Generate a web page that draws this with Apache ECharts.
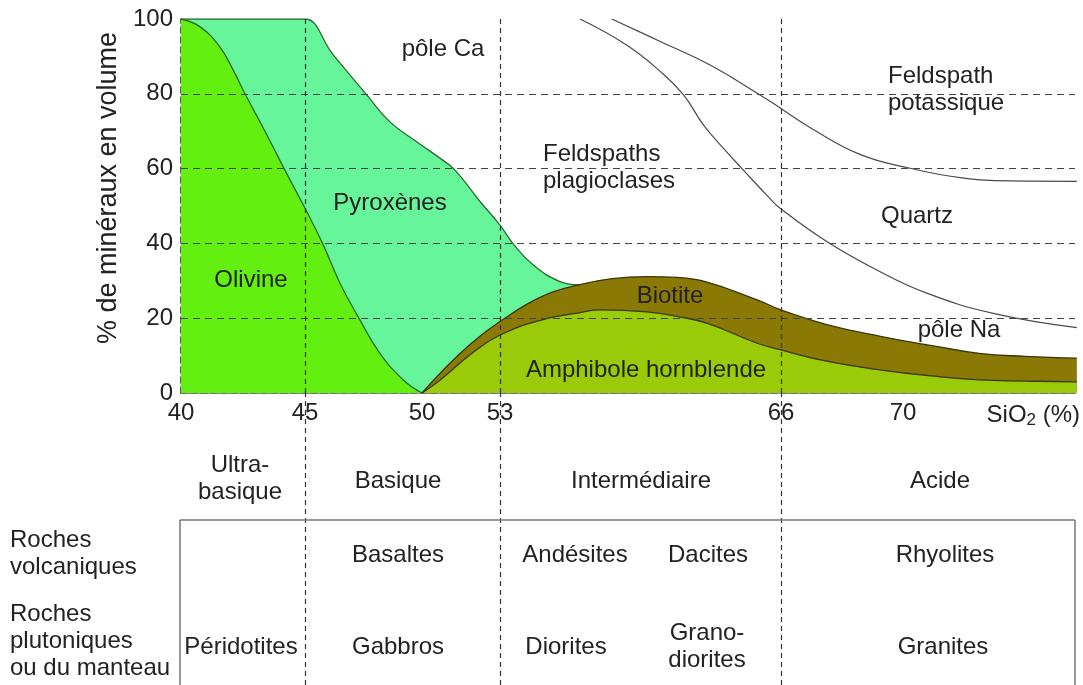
<!DOCTYPE html>
<html>
<head>
<meta charset="utf-8">
<script src="https://cdn.jsdelivr.net/npm/echarts@6/dist/echarts.min.js"></script>
<style>
  html, body { margin: 0; padding: 0; background: #fff; }
  #container { width: 1083px; height: 685px; }
</style>
</head>
<body>
<div id="container"></div>
<script>
// axe SiO2 dessiné à la main : les graduations ne sont pas régulières
var siTicks = [40, 45, 50, 53, 66, 70]
var tickSpots = [0, 124, 241, 319, 600, 722]
var axisEnd = 894
var limites = [45, 53, 66]
var yTicks = [20, 40, 60, 80]

// courbes : SiO2 (%) / % de minéraux
var olivineSi = [40, 40.77, 41.57, 42.1, 42.58, 43.4, 44.19, 45, 45.78, 46.5, 47.35, 48.2, 49.2, 50]
var olivinePct = [100, 97.9, 92.5, 86.4, 80, 69.8, 59.6, 49.4, 39.6, 29.3, 19.5, 10.6, 3.5, 0]

var pyroxeneSi = [40, 44.7, 45, 46.21, 47.64, 48.63, 49.77, 50.69, 51.27, 52.23, 53, 53.62, 54.54, 55.78, 56.7]
var pyroxenePct = [100, 100, 100, 90.4, 79.7, 72.5, 67.2, 62.8, 59.6, 51.2, 44.9, 39.8, 34.2, 29.8, 28.9]

var biotiteSi = [50, 50.7, 51.9, 53, 54.9, 56.7, 58.2, 59.8, 61.2, 62.5, 64.9, 66, 67.5, 69.3, 71, 72.5, 74, 75.7]
var biotitePct = [0, 5.3, 13.3, 19.1, 25.7, 29, 30.6, 31.1, 30.9, 29.8, 24.9, 22.2, 18.3, 15.1, 12.6, 10.6, 9.8, 9.3]

var amphiboleSi = [50, 50.7, 51.9, 53, 54.9, 56.5, 57.6, 59.8, 61.2, 62.6, 64.9, 66, 67.5, 69.3, 71, 72.5, 74, 75.7]
var amphibolePct = [0, 3.5, 10.5, 15.5, 19.5, 21.3, 22.2, 21.7, 20.5, 18.6, 13.3, 11.5, 8.5, 6.1, 4.5, 3.5, 3.2, 3.0]

// limite feldspaths plagioclases / quartz
var quartzSi = [56.7, 58.87, 60.41, 61.49, 62.41, 63.34, 64.26, 65.34, 65.96, 67.5, 69.14, 70.78, 72.96, 75.7]
var quartzPct = [100, 93, 86, 79.7, 71.7, 65.4, 59.6, 52.9, 49.4, 40.5, 32.9, 26.7, 21.3, 17.5]

// limite feldspath potassique
var potassiqueSi = [58.17, 60.41, 62.72, 65.03, 65.96, 66.95, 68.59, 70.23, 71.87, 73.51, 75.7]
var potassiquePct = [100, 94, 87.7, 79.7, 76.2, 71, 63.8, 60.1, 57.6, 56.7, 56.6]

var font = '"Liberation Sans", Arial, sans-serif'

var warp = function (si) {
    var n = siTicks.length
    if (si <= siTicks[0]) {
        var s0 = (tickSpots[1] - tickSpots[0]) / (siTicks[1] - siTicks[0])
        return tickSpots[0] + (si - siTicks[0]) * s0
    }
    for (var i = 1; i < n; i++) {
        if (si <= siTicks[i]) {
            var t = (si - siTicks[i - 1]) / (siTicks[i] - siTicks[i - 1])
            return tickSpots[i - 1] + t * (tickSpots[i] - tickSpots[i - 1])
        }
    }
    var s = (tickSpots[n - 1] - tickSpots[n - 2]) / (siTicks[n - 1] - siTicks[n - 2])
    return tickSpots[n - 1] + (si - siTicks[n - 1]) * s
}

var zip = function (xs, ys) {
    var res = []
    for (var i = 0; i < xs.length; i++) {
        res.push([warp(xs[i]), ys[i]])
    }
    return res
}

var zone = function (name, xs, ys, fill, edge) {
    return {
        name: name,
        type: 'line',
        data: zip(xs, ys),
        smooth: 0.45,
        symbol: 'none',
        silent: true,
        lineStyle: { color: edge, width: 1.3 },
        areaStyle: { color: fill, opacity: 1 },
    }
}

var courbe = function (name, xs, ys) {
    return {
        name: name,
        type: 'line',
        data: zip(xs, ys),
        smooth: 0.45,
        symbol: 'none',
        silent: true,
        lineStyle: { color: '#4a4a4a', width: 1.2 },
    }
}

var texte = function (t, x, y, align) {
    return {
        type: 'text',
        x: x,
        y: y,
        z: 100,
        silent: true,
        style: {
            text: t,
            font: '24px ' + font,
            fill: '#222',
            align: align || 'center',
            verticalAlign: 'middle',
            lineHeight: 27,
        },
    }
}

var trait = function (x1, y1, x2, y2) {
    return {
        type: 'line',
        z: 100,
        silent: true,
        shape: { x1: x1, y1: y1, x2: x2, y2: y2 },
        style: { stroke: '#777', lineWidth: 1.5 },
    }
}

var dom = document.getElementById('container')
var myChart = echarts.init(dom, null, { renderer: 'canvas' })

var tiret = { color: '#333', width: 1.2, type: [5, 4] }

var option = {
    animation: false,
    backgroundColor: '#fff',
    grid: [
        { left: 181, right: 8, top: 19, height: 374 },
        { left: 181, right: 8, top: 393, bottom: 0 },
    ],
    xAxis: [
        {
            type: 'value', gridIndex: 0, position: 'bottom',
            min: 0, max: axisEnd,
            axisLine: { show: true, lineStyle: { color: '#222', width: 1.5, type: [6, 4] } },
            axisTick: { show: false },
            splitLine: { show: false },
            axisLabel: {
                customValues: siTicks.map(warp),
                margin: 8,
                color: '#222',
                fontSize: 24,
                fontFamily: font,
                formatter: function (v) {
                    var k = tickSpots.indexOf(Math.round(v))
                    return k >= 0 ? String(siTicks[k]) : ''
                },
            },
            name: 'SiO{sub|2} (%)',
            nameLocation: 'end',
            nameGap: 5,
            nameTextStyle: {
                color: '#222', fontSize: 24, fontFamily: font,
                align: 'right', verticalAlign: 'top', padding: [9, 0, 0, 0],
                rich: { sub: { fontSize: 17, fontFamily: font, color: '#222', padding: [10, 0, 0, 0] } },
            },
        },
        {
            type: 'value', gridIndex: 0, position: 'top',
            min: 0, max: axisEnd,
            axisLine: { show: true, lineStyle: { color: '#777', width: 1.5 } },
            axisTick: { show: false }, axisLabel: { show: false }, splitLine: { show: false },
        },
        {
            type: 'value', gridIndex: 1, min: 0, max: axisEnd, show: false,
        },
    ],
    yAxis: [
        {
            type: 'value', gridIndex: 0, position: 'left',
            min: 0, max: 100, interval: 20,
            axisLine: { show: true, lineStyle: { color: '#222', width: 1.5, type: [6, 4] } },
            axisTick: { show: false },
            splitLine: { show: false },
            axisLabel: { margin: 8, color: '#222', fontSize: 24, fontFamily: font },
            name: '% de minéraux en volume',
            nameLocation: 'middle',
            nameGap: 58,
            nameTextStyle: { color: '#222', fontSize: 27, fontFamily: font, padding: [0, 0, 0, 36] },
        },
        {
            type: 'value', gridIndex: 0, position: 'right',
            min: 0, max: 100,
            axisLine: { show: true, lineStyle: { color: '#666', width: 1.2, type: [6, 4] } },
            axisTick: { show: false }, axisLabel: { show: false }, splitLine: { show: false },
        },
        {
            type: 'value', gridIndex: 1, min: 0, max: 1, show: false,
        },
    ],
    series: [
        zone('Pyroxènes', pyroxeneSi, pyroxenePct, '#66f59a', '#2d6b2d'),
        zone('Olivine', olivineSi, olivinePct, '#63f010', '#2d6b2d'),
        zone('Biotite', biotiteSi, biotitePct, '#8b7906', '#3a3510'),
        zone('Amphibole hornblende', amphiboleSi, amphibolePct, '#9acb08', '#3a3510'),
        courbe('Quartz', quartzSi, quartzPct),
        courbe('Feldspath potassique', potassiqueSi, potassiquePct),
        {
            name: 'repères',
            type: 'line',
            data: [],
            silent: true,
            symbol: 'none',
            markLine: {
                silent: true,
                symbol: 'none',
                label: { show: false },
                lineStyle: { color: '#444', width: 1.2, type: [7, 5] },
                data: yTicks.map(function (v) { return { yAxis: v } })
                    .concat(limites.map(function (v) { return { xAxis: warp(v), lineStyle: tiret } })),
            },
        },
        {
            name: 'limites tableau',
            type: 'line',
            xAxisIndex: 2,
            yAxisIndex: 2,
            data: [[0, 0]],
            silent: true,
            symbol: 'none',
            lineStyle: { width: 0 },
            markLine: {
                silent: true,
                symbol: 'none',
                label: { show: false },
                lineStyle: tiret,
                data: limites.map(function (v) { return { xAxis: warp(v) } }),
            },
        },
    ],
    graphic: [
        texte('pôle Ca', 443, 49),
        texte('Feldspaths\nplagioclases', 543, 168, 'left'),
        texte('Feldspath\npotassique', 888, 90, 'left'),
        texte('Quartz', 917, 216),
        texte('pôle Na', 959, 330),
        texte('Pyroxènes', 390, 203),
        texte('Olivine', 251, 280),
        texte('Biotite', 670, 296),
        texte('Amphibole hornblende', 646, 370),

        trait(180, 520, 1075, 520),
        trait(180, 520, 180, 685),
        trait(1075, 520, 1075, 685),

        texte('Ultra-\nbasique', 240, 479),
        texte('Basique', 398, 481),
        texte('Intermédiaire', 641, 481),
        texte('Acide', 940, 481),
        texte('Roches\nvolcaniques', 10, 554, 'left'),
        texte('Roches\nplutoniques\nou du manteau', 10, 641, 'left'),
        texte('Basaltes', 398, 555),
        texte('Andésites', 575, 555),
        texte('Dacites', 708, 555),
        texte('Rhyolites', 945, 555),
        texte('Péridotites', 241, 647),
        texte('Gabbros', 398, 647),
        texte('Diorites', 566, 647),
        texte('Grano-\ndiorites', 707, 647),
        texte('Granites', 943, 647),
    ],
}

myChart.setOption(option)
</script>
</body>
</html>
